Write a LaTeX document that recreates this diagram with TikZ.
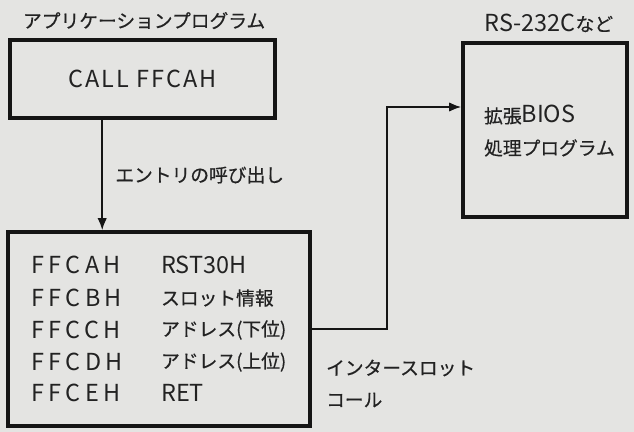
\documentclass[tikz,border=0pt]{standalone}
\usepackage{fontspec}
\setmainfont[FakeBold=0.5]{Noto Sans CJK JP}
\newfontfamily\latfont{Noto Sans CJK JP}
\newfontfamily\codefont[LetterSpace=19]{Noto Sans CJK JP}
\newfontfamily\callfont[LetterSpace=9]{Noto Sans CJK JP}
\newcommand\lat[1]{{\fontsize{20}{19}\selectfont\latfont #1}}
\usetikzlibrary{arrows.meta, positioning, calc, backgrounds}
\definecolor{Paper}{HTML}{E4E4E2}
\definecolor{Ink}{HTML}{151515}
\definecolor{TextInk}{HTML}{222222}

\begin{document}
\begin{tikzpicture}[x=0.3mm,y=-0.3mm,every node/.style={text=TextInk,font=\fontsize{16}{19}\selectfont},progbox/.style={draw=Ink,line width=3pt,inner sep=0pt},codetext/.style={anchor=west,font=\fontsize{20}{19}\selectfont\codefont},infotext/.style={anchor=west},inktext/.style={anchor=west},callarrow/.style={-{Latex[length=3.6mm,width=2.8mm]},draw=Ink,line width=1.5pt}]
\begin{scope}[on background layer]\fill[Paper] (0,0) rectangle (634,432);\end{scope}
\useasboundingbox (0,0) rectangle (634,432);
\node[progbox,minimum width=7.95cm,minimum height=2.34cm] (app) at (142.5,79) {\fontsize{20}{19}\selectfont\callfont CALL FFCAH};
\node[inktext,above=1.5mm of app.north west,anchor=south west,xshift=3.2mm] (apptitle) {アプリケーションプログラム};
\node[progbox,minimum width=9.06cm,minimum height=5.82cm] (table) at (159,329) {};
\node[progbox,minimum width=4.92cm,minimum height=5.22cm] (bios) at (545,130) {};
\node[inktext,above=1.5mm of bios.north west,anchor=south west,xshift=5.8mm] (biostitle) {\lat{RS-232C}など};
\node[inktext] (bios1) at (480,115) {拡張\lat{BIOS}};
\node[inktext] (bios2) at (480,148) {処理プログラム};
% entry table
\node[codetext] (addrA) at (27,265) {FFCAH};
\node[codetext] (addrB) at (27,298) {FFCBH};
\node[codetext] (addrC) at (27,330) {FFCCH};
\node[codetext] (addrD) at (27,362) {FFCDH};
\node[codetext] (addrE) at (27,393) {FFCEH};
\node[infotext] (infoA) at (157,265) {\lat{RST30H}};
\node[infotext] (infoB) at (157,298) {スロット情報};
\node[infotext] (infoC) at (157,330) {アドレス(下位)};
\node[infotext] (infoD) at (157,362) {アドレス(上位)};
\node[infotext] (infoE) at (157,393) {\lat{RET}};
% connectors
\coordinate (entry) at ($(app.south west)!0.35!(app.south east)$);
\draw[callarrow] (entry) -- node[right,xshift=2.5mm] {エントリの呼び出し} (entry |- table.north);
\coordinate (turn) at (387,107);
\draw[callarrow] (table.east) -| (turn) -- (turn -| bios.west);
\node[inktext] (inter1) at (322,368) {インタースロット};
\node[inktext] (inter2) at (322,400) {コール};
\end{tikzpicture}
\end{document}
